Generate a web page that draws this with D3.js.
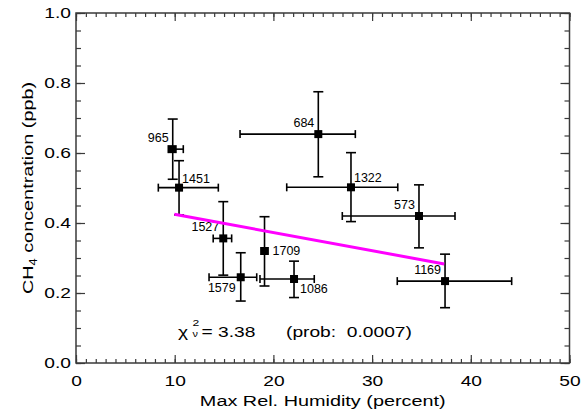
<!DOCTYPE html>
<html>
<head>
<meta charset="utf-8">
<script src="https://cdn.jsdelivr.net/npm/d3@7"></script>
<style>
  body { margin: 0; background: #fff; }
  text { font-family: "Liberation Sans", Arial, Helvetica, sans-serif; fill: #000; }
</style>
</head>
<body>
<div id="chart"></div>
<script>
// data
const sampleIds = ["965", "1451", "684", "1322", "573", "1527", "1579", "1709", "1086", "1169"];
const humidity = [9.80, 10.44, 24.55, 27.86, 34.75, 14.92, 16.69, 19.10, 22.09, 37.39];
const humidityLow = [9.35, 8.34, 16.62, 21.35, 26.98, 13.90, 13.48, 18.75, 18.64, 32.55];
const humidityHigh = [10.87, 14.42, 28.30, 32.60, 38.40, 15.77, 18.31, 19.45, 24.14, 44.14];
const ch4 = [0.611, 0.501, 0.654, 0.502, 0.420, 0.356, 0.245, 0.320, 0.240, 0.234];
const ch4Low = [0.525, 0.423, 0.532, 0.404, 0.329, 0.251, 0.177, 0.220, 0.187, 0.158];
const ch4High = [0.697, 0.578, 0.775, 0.601, 0.509, 0.461, 0.315, 0.418, 0.291, 0.311];
const labelSide = ["nw", "ne", "nw", "ne", "nw", "nw", "sw", "e", "se", "nw"];

const fitX = [9.96, 37.31];
const fitY = [0.425, 0.283];

const xTicks = [0, 10, 20, 30, 40, 50];
const yTicks = [0.0, 0.2, 0.4, 0.6, 0.8, 1.0];
const chiText = "= 3.38";
const probText = "(prob:  0.0007)";

// layout
const width = 586, height = 415;
const margin = { top: 13, right: 16.5, bottom: 52, left: 76 };
const innerW = width - margin.left - margin.right;
const innerH = height - margin.top - margin.bottom;
const stretch = 1.28; // the reference's large text is wide, like a stretched Helvetica

const svg = d3.select("#chart")
  .append("svg")
  .attr("width", width)
  .attr("height", height);
svg.append("rect").attr("width", width).attr("height", height).attr("fill", "#fff");

const g = svg.append("g")
  .attr("transform", `translate(${margin.left}, ${margin.top})`);

// scales
const scaleX = d3.scaleLinear().domain([0, 50]).range([0, innerW]);
const scaleY = d3.scaleLinear().domain([0, 1]).range([innerH, 0]);

const axisColor = "#3a3a3a";
const minorX = d3.range(0, 51, 1);
const minorY = d3.range(0, 1.0001, 0.05);

function styleAxis(sel) {
  sel.select(".domain").remove();
  sel.selectAll(".tick line").attr("stroke", axisColor).attr("stroke-width", 1.2);
  sel.selectAll(".tick text").attr("font-size", 15).attr("fill", "#000")
    .each(function () {
      const t = d3.select(this);
      const x = +t.attr("x") || 0;
      t.attr("x", x / stretch).attr("transform", `scale(${stretch},1)`);
    });
}

// bottom
g.append("g").attr("transform", `translate(0, ${innerH})`)
  .call(d3.axisBottom(scaleX).tickValues(minorX).tickSize(-4).tickFormat(""))
  .call(styleAxis);
g.append("g").attr("transform", `translate(0, ${innerH})`)
  .call(d3.axisBottom(scaleX).tickValues(xTicks).tickSize(-8).tickPadding(12).tickFormat(d3.format("d")))
  .call(styleAxis);
// top
g.append("g")
  .call(d3.axisTop(scaleX).tickValues(minorX).tickSize(-4).tickFormat(""))
  .call(styleAxis);
g.append("g")
  .call(d3.axisTop(scaleX).tickValues(xTicks).tickSize(-8).tickFormat(""))
  .call(styleAxis);
// left
g.append("g")
  .call(d3.axisLeft(scaleY).tickValues(minorY).tickSize(-5).tickFormat(""))
  .call(styleAxis);
g.append("g")
  .call(d3.axisLeft(scaleY).tickValues(yTicks).tickSize(-9).tickPadding(5).tickFormat(d3.format(".1f")))
  .call(styleAxis);
// right
g.append("g").attr("transform", `translate(${innerW}, 0)`)
  .call(d3.axisRight(scaleY).tickValues(minorY).tickSize(-5).tickFormat(""))
  .call(styleAxis);
g.append("g").attr("transform", `translate(${innerW}, 0)`)
  .call(d3.axisRight(scaleY).tickValues(yTicks).tickSize(-9).tickFormat(""))
  .call(styleAxis);

// frame
g.append("rect")
  .attr("width", innerW).attr("height", innerH)
  .attr("fill", "none").attr("stroke", axisColor).attr("stroke-width", 1.5);

// axis titles
svg.append("text")
  .attr("transform", `translate(${margin.left + innerW / 2}, 406) scale(${stretch},1)`)
  .attr("text-anchor", "middle").attr("font-size", 15.5)
  .text("Max Rel. Humidity (percent)");

const yTitle = svg.append("text")
  .attr("transform", `translate(33, ${margin.top + innerH / 2}) rotate(-90) scale(${stretch},1)`)
  .attr("text-anchor", "middle").attr("font-size", 15.5);
yTitle.append("tspan").text("CH");
yTitle.append("tspan").attr("font-size", 10).attr("dy", 4).text("4");
yTitle.append("tspan").attr("dy", -4).text(" concentration (ppb)");

// points
const points = sampleIds.map((id, i) => ({
  id, side: labelSide[i],
  x: scaleX(humidity[i]), y: scaleY(ch4[i]),
  x0: scaleX(humidityLow[i]), x1: scaleX(humidityHigh[i]),
  y0: scaleY(ch4Low[i]), y1: scaleY(ch4High[i])
}));

const groupBars = g.append("g").attr("stroke", "#000").attr("stroke-width", 1.6);
const capY = 5, capX = 4;
points.forEach(p => {
  groupBars.append("line").attr("x1", p.x).attr("x2", p.x).attr("y1", p.y0).attr("y2", p.y1);
  groupBars.append("line").attr("x1", p.x - capY).attr("x2", p.x + capY).attr("y1", p.y0).attr("y2", p.y0);
  groupBars.append("line").attr("x1", p.x - capY).attr("x2", p.x + capY).attr("y1", p.y1).attr("y2", p.y1);
  groupBars.append("line").attr("x1", p.x0).attr("x2", p.x1).attr("y1", p.y).attr("y2", p.y);
  groupBars.append("line").attr("x1", p.x0).attr("x2", p.x0).attr("y1", p.y - capX).attr("y2", p.y + capX);
  groupBars.append("line").attr("x1", p.x1).attr("x2", p.x1).attr("y1", p.y - capX).attr("y2", p.y + capX);
});

const sq = 8;
g.append("g").selectAll("rect")
  .data(points)
  .join("rect")
  .attr("x", d => d.x - sq / 2).attr("y", d => d.y - sq / 2)
  .attr("width", sq).attr("height", sq)
  .attr("fill", "#000");

// labels
const placement = {
  nw: { anchor: "end", dx: -4, dy: -7 },
  ne: { anchor: "start", dx: 3, dy: -5 },
  sw: { anchor: "end", dx: -5, dy: 15 },
  e:  { anchor: "start", dx: 8, dy: 4 },
  se: { anchor: "start", dx: 6, dy: 14 }
};
g.append("g").selectAll("text")
  .data(points)
  .join("text")
  .attr("x", d => d.x + placement[d.side].dx)
  .attr("y", d => d.y + placement[d.side].dy)
  .attr("text-anchor", d => placement[d.side].anchor)
  .attr("font-size", 12.5)
  .text(d => d.id);

// fit line
g.append("line")
  .attr("x1", scaleX(fitX[0])).attr("y1", scaleY(fitY[0]))
  .attr("x2", scaleX(fitX[1])).attr("y2", scaleY(fitY[1]))
  .attr("stroke", "#ff00ff").attr("stroke-width", 3);

// chi-square annotation
function note(x, y, size, txt) {
  return svg.append("text")
    .attr("transform", `translate(${x}, ${y}) scale(${stretch},1)`)
    .attr("font-size", size)
    .attr("xml:space", "preserve").style("white-space", "pre")
    .text(txt);
}
note(178, 337, 15, "χ");
note(192.5, 326, 9.5, "2");
note(192.5, 337, 8.5, "ν");
note(201.5, 337, 15, chiText);
note(286, 337, 15, probText);
</script>
</body>
</html>
